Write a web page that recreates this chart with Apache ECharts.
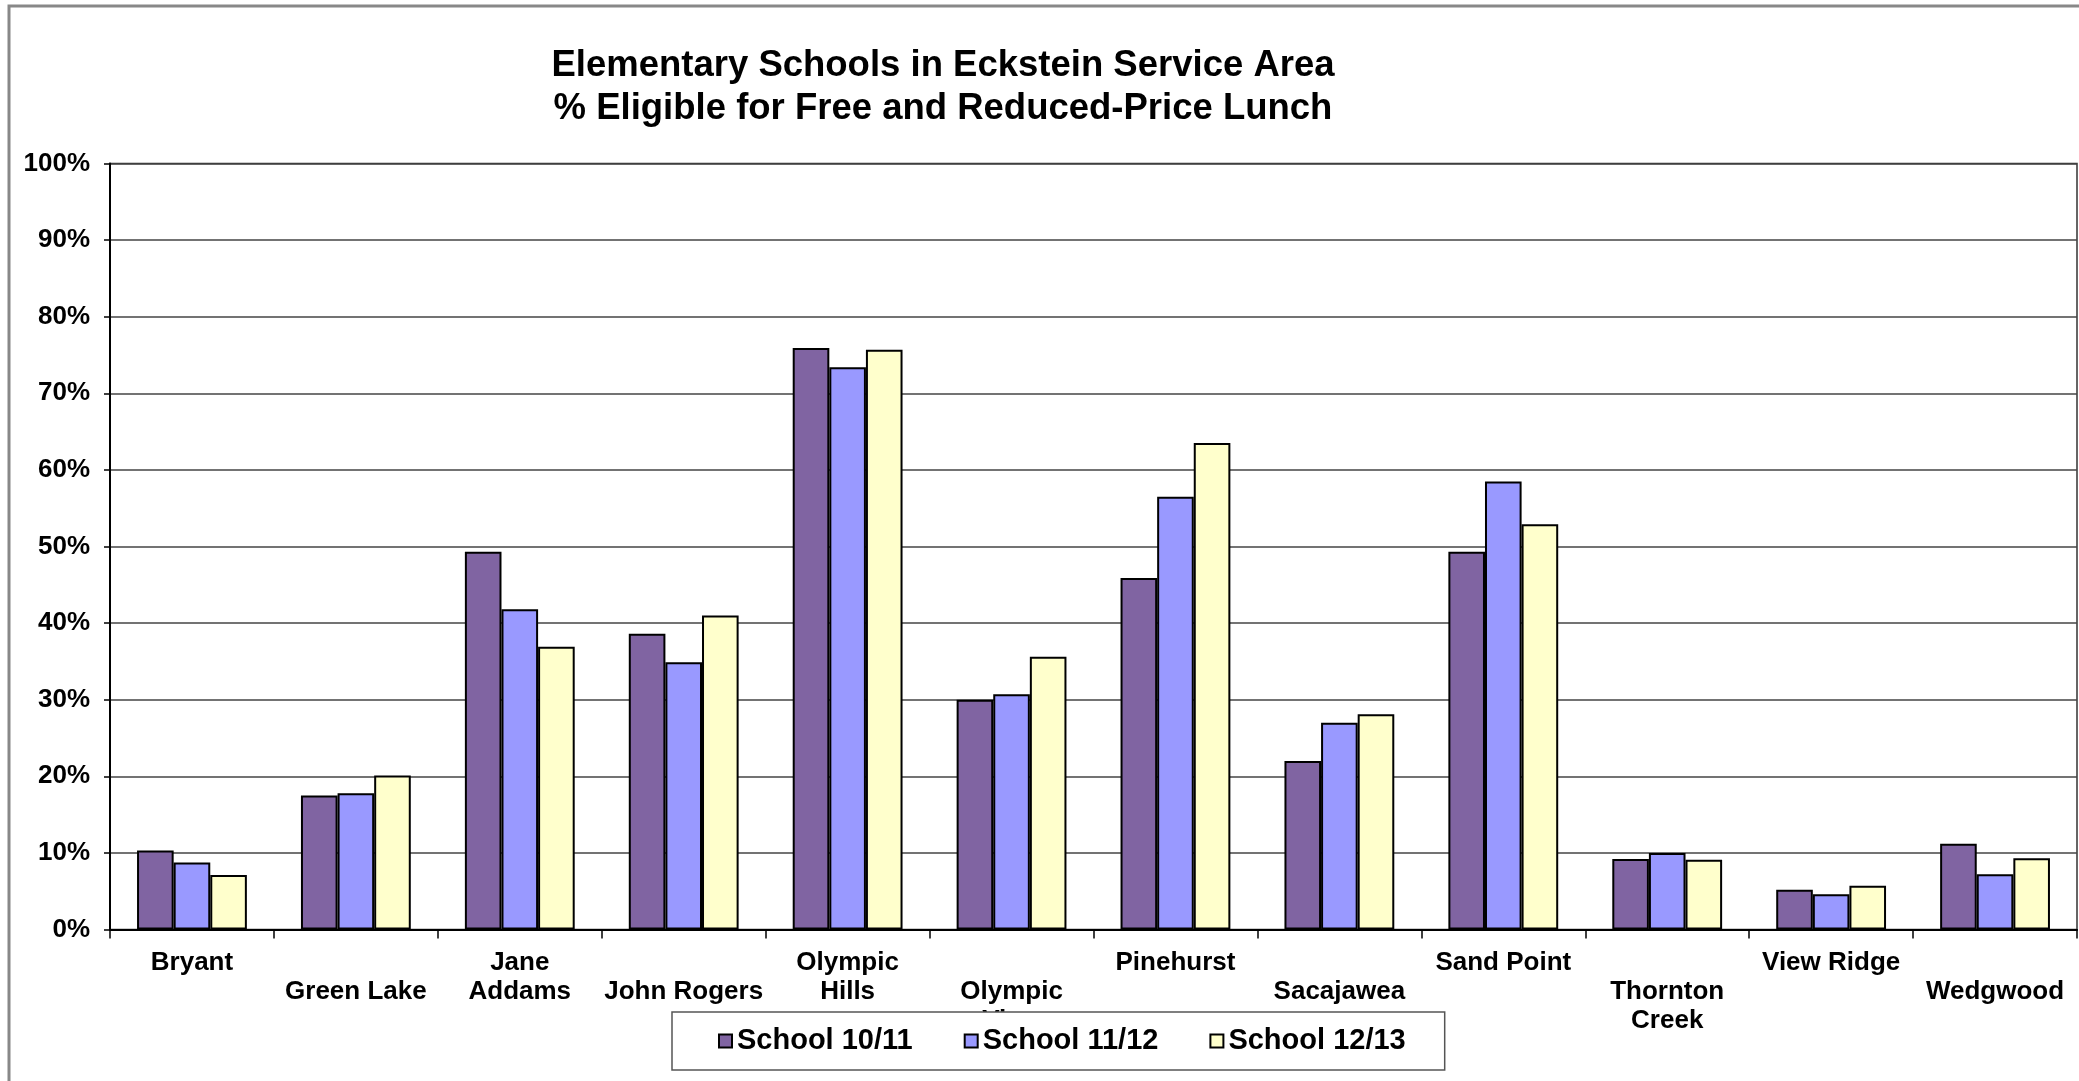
<!DOCTYPE html>
<html>
<head>
<meta charset="utf-8">
<script src="https://cdn.jsdelivr.net/npm/echarts@6/dist/echarts.min.js"></script>
<style>
html,body{margin:0;padding:0;background:#fff;}
#c{width:2079px;height:1081px;}
</style>
</head>
<body>
<div id="c"></div>
<script>
const categories = ["Bryant","Green Lake","Jane\nAddams","John Rogers","Olympic\nHills","Olympic\nView","Pinehurst","Sacajawea","Sand Point","Thornton\nCreek","View Ridge","Wedgwood"];
const seriesNames = ["School 10/11","School 11/12","School 12/13"];
const school1011 = [10.3, 17.5, 49.3, 38.6, 75.9, 30.0, 45.9, 22.0, 49.3, 9.2, 5.2, 11.2];
const school1112 = [8.75, 17.8, 41.8, 34.9, 73.4, 30.7, 56.5, 27.0, 58.5, 10.0, 4.6, 7.2];
const school1213 = [7.1, 20.1, 36.9, 41.0, 75.7, 35.6, 63.5, 28.1, 52.9, 9.1, 5.7, 9.3];
const yTicks = [0,10,20,30,40,50,60,70,80,90,100];
const colors = ["#8064A2","#9999FF","#FFFFCC"];

const FONT = '"Liberation Sans", Arial, sans-serif';
const chart = echarts.init(document.getElementById('c'), null, {renderer:'canvas'});
const mk = (name, data, color) => ({
  name, type:'bar', data,
  barGap:'0%', barCategoryGap:'33%',
  itemStyle:{color, borderColor:'#000', borderWidth:2},
  emphasis:{disabled:true}
});
chart.setOption({
  animation:false,
  backgroundColor:'#fff',
  title:{
    text:'Elementary Schools in Eckstein Service Area\n% Eligible for Free and Reduced-Price Lunch',
    left:943, top:44, textAlign:'center', padding:0,
    textStyle:{fontFamily:FONT, fontWeight:'bold', fontSize:36.5, lineHeight:43, color:'#000'}
  },
  graphic:[{type:'rect', shape:{x:9,y:6,width:2200,height:1200}, style:{fill:'none', stroke:'#888', lineWidth:3}, silent:true, z:-1}],
  grid:{left:110, right:2, top:163.5, bottom:151.5, show:true, borderColor:'#333', borderWidth:1.5, backgroundColor:'transparent'},
  legend:{
    data:seriesNames, left:672, top:1012,
    padding:[14,39,14,46], itemGap:51, itemWidth:13, itemHeight:13, itemTextGap:6,
    borderColor:'#555', borderWidth:1.5, backgroundColor:'#fff',
    textStyle:{fontFamily:FONT, fontWeight:'bold', fontSize:29, lineHeight:30, color:'#000'},
    icon:'rect', z:10
  },
  xAxis:{
    type:'category', data:categories,
    axisLine:{lineStyle:{color:'#000', width:2}},
    axisTick:{show:true, length:9, lineStyle:{color:'#000', width:1.5}, interval:0},
    axisLabel:{
      interval:0, margin:19, color:'#000', fontFamily:FONT, fontWeight:'bold', fontSize:26, lineHeight:29,
      verticalAlign:'top', align:'center',
      formatter:(v, i) => (i % 2 === 1 ? '\n' : '') + v
    }
  },
  yAxis:{
    type:'value', min:yTicks[0], max:yTicks[yTicks.length-1], interval:10,
    axisLine:{show:true, lineStyle:{color:'#000', width:2}},
    axisTick:{show:true, length:6, lineStyle:{color:'#000', width:1.5}},
    splitLine:{lineStyle:{color:'#444', width:1.5}},
    axisLabel:{margin:20, color:'#000', fontFamily:FONT, fontWeight:'bold', fontSize:26, formatter:'{value}%'}
  },
  series:[mk(seriesNames[0], school1011, colors[0]), mk(seriesNames[1], school1112, colors[1]), mk(seriesNames[2], school1213, colors[2])]
});
</script>
</body>
</html>
